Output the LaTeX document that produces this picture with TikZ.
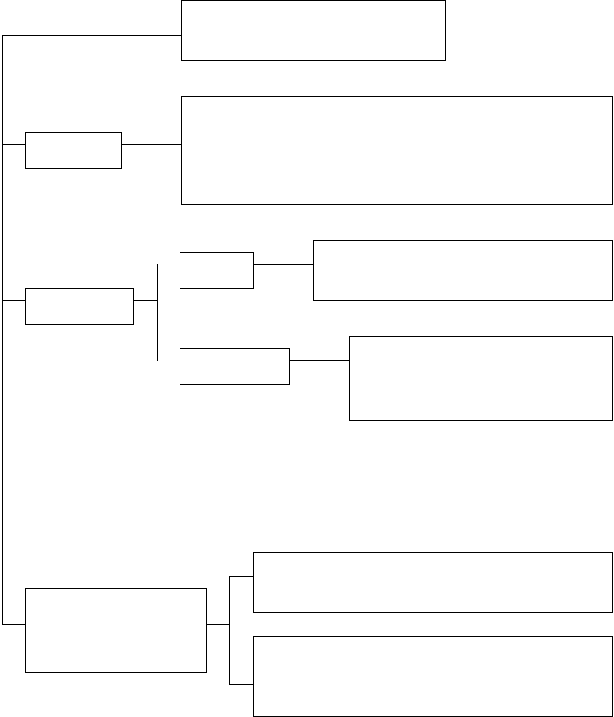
\documentclass[tikz,border=0pt]{standalone}
\begin{document}
\begin{tikzpicture}[x=1pt,y=-1pt,line width=1pt,
  box/.style={draw,inner sep=0pt,outer sep=0pt,anchor=north west},
  link/.style={draw}]
\useasboundingbox (0,0) rectangle (613,717);
% boxes
\node[box,minimum width=264pt,minimum height=60pt] (A) at (181,0.5) {};
\node[box,minimum width=96pt,minimum height=36pt] (B1) at (25,132) {};
\node[box,minimum width=431pt,minimum height=107.5pt] (B2) at (181,96.5) {};
\node[box,minimum width=108pt,minimum height=36pt] (C1) at (25,288) {};
\node[box,minimum width=299pt,minimum height=60pt] (C2) at (313,240) {};
\node[box,minimum width=263pt,minimum height=84pt] (C3) at (349,336) {};
\node[box,minimum width=181pt,minimum height=84pt] (D1) at (25,588) {};
\node[box,minimum width=359pt,minimum height=60pt] (D2) at (253,552) {};
\node[box,minimum width=359pt,minimum height=80pt] (D3) at (253,636) {};
% spine
\coordinate (s0) at (2,36);
\coordinate (s1) at (2,144);
\coordinate (s2) at (2,300);
\coordinate (s3) at (2,624);
\draw (s0) -- (s3);
\draw (s0) -- (s0 -| A.west);
\draw (s1) -- (s1 -| B1.west);
\draw (s1 -| B1.east) -- (s1 -| B2.west);
\draw (s2) -- (s2 -| C1.west);
\coordinate (cb) at (157,300);
\draw (s2 -| C1.east) -- (cb);
\coordinate (cbt) at (157,264);
\coordinate (cbb) at (157,361);
\draw (cbt) -- (cbb);
% brackets in section C
\coordinate (k1) at (253,264);
\draw (180,252) -- (253,252) -- (253,288) -- (180,288);
\draw (k1) -- (k1 -| C2.west);
\coordinate (k2) at (289,360);
\draw (180,348) -- (289,348) -- (289,384) -- (180,384);
\draw (k2) -- (k2 -| C3.west);
% section D
\coordinate (d0) at (229,624);
\coordinate (d1) at (229,576);
\coordinate (d2) at (229,684);
\draw (s3) -- (s3 -| D1.west);
\draw (s3 -| D1.east) -- (d0);
\draw (d1) -- (d2);
\draw (d1) -- (d1 -| D2.west);
\draw (d2) -- (d2 -| D3.west);
\end{tikzpicture}
\end{document}
